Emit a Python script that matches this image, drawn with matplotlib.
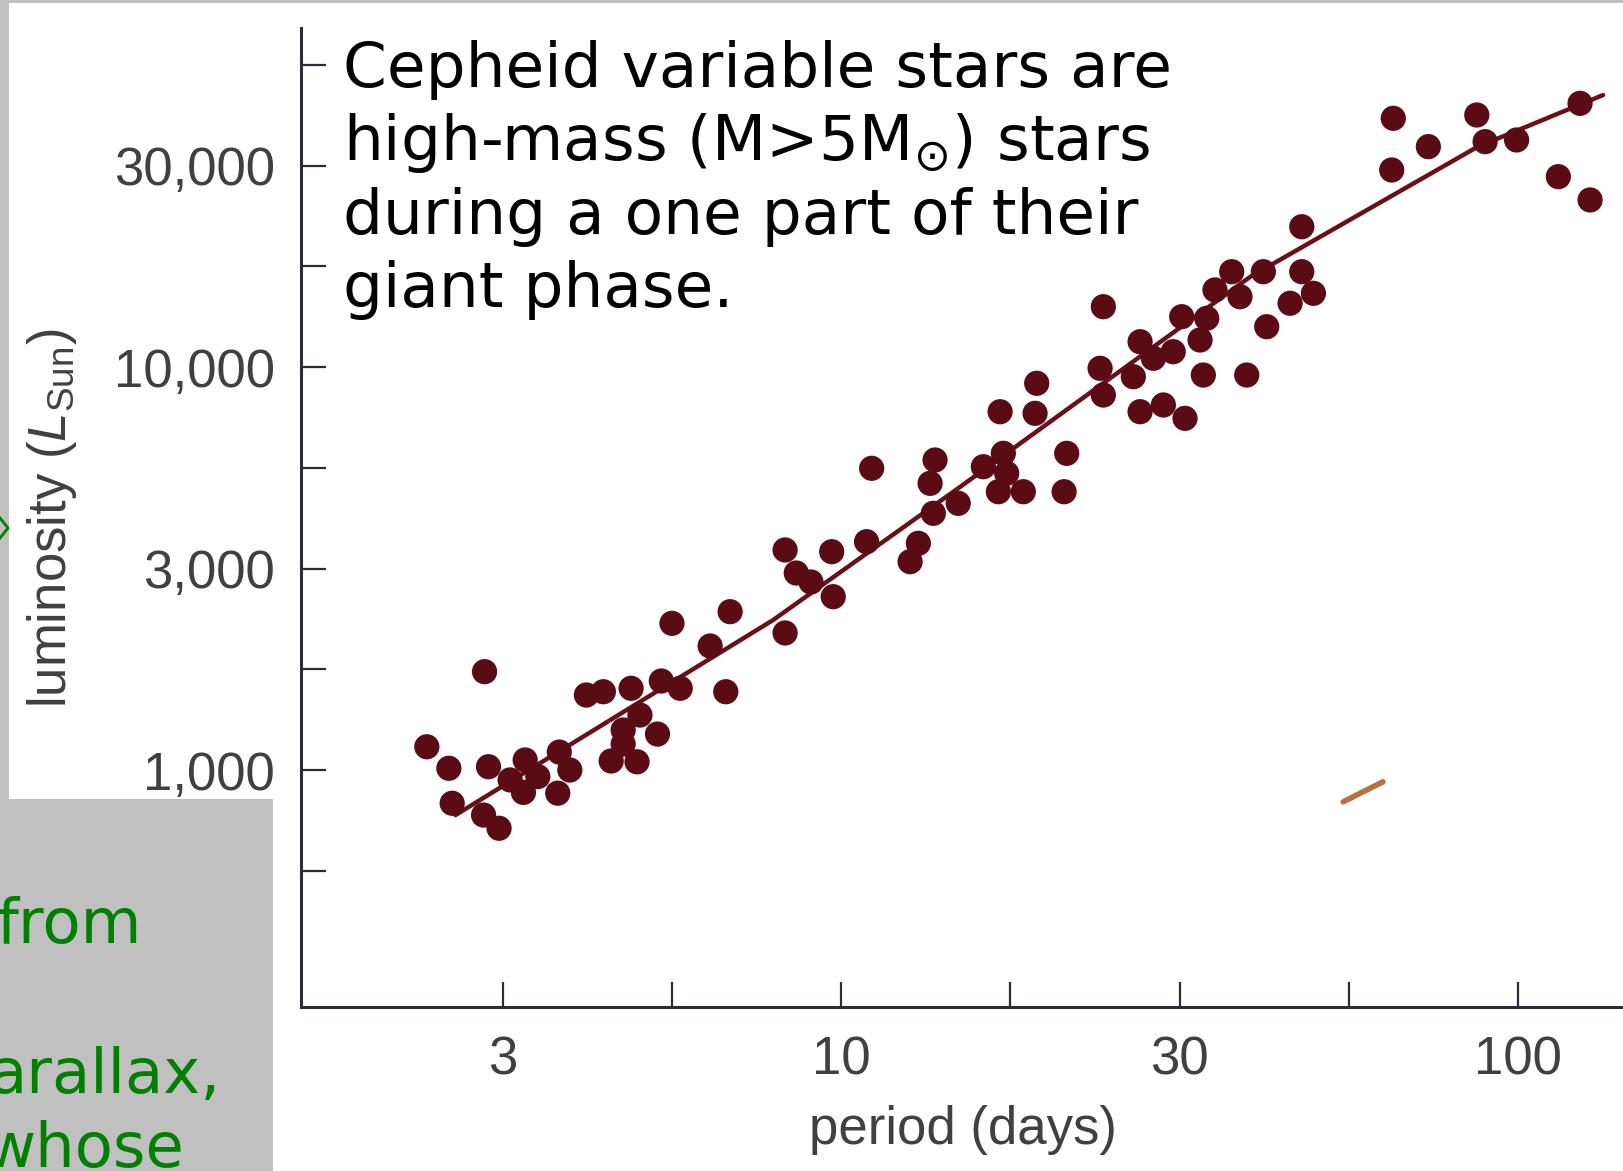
import matplotlib
matplotlib.use('Agg')
import matplotlib.pyplot as plt
from matplotlib.patches import Rectangle
from matplotlib.lines import Line2D
from matplotlib.ticker import NullLocator

# ---------------- data ----------------
period_days = [2.44, 2.63, 2.66, 2.97, 3.01, 2.96, 3.12, 3.41, 3.24, 3.39,
               3.56, 3.83, 3.97, 3.81, 4.20, 4.45, 4.89, 5.42, 5.78, 6.75,
               6.40, 8.26, 5.62, 6.85, 5.04, 4.76, 5.35, 4.57, 4.99, 4.76,
               8.26, 9.68, 10.9, 9.73, 8.58, 9.02, 11.09, 13.76, 13.53, 13.00,
               12.64, 14.89, 13.68, 16.22, 17.36, 17.56, 17.07, 18.58, 21.54, 21.35,
               17.17, 19.34, 19.45, 24.40, 24.13, 24.40, 27.02, 27.65, 28.93, 30.95,
               27.65, 29.93, 32.22, 31.86, 33.91, 34.69, 34.29, 39.75, 42.55, 35.68,
               37.77, 38.85, 42.06, 46.07, 47.94, 49.88, 47.94, 65.46, 73.76, 65.11,
               86.98, 89.48, 99.6, 123.6, 114.8, 127.9]
luminosity_lsun = [1142, 1010, 827, 1754, 1019, 773, 717, 1059, 945, 880,
                   963, 1108, 1000, 876, 1535, 1564, 1595, 1663, 1595, 1564,
                   2031, 2188, 2312, 2471, 1369, 1257, 1228, 1053, 1048, 1160,
                   3516, 3481, 3686, 2692, 3082, 2928, 5606, 5878, 5145, 3652,
                   3288, 4589, 4335, 5657, 6107, 5447, 4904, 4904, 6107, 4904,
                   7746, 7675, 9112, 14113, 9926, 8521, 9461, 11556, 10510, 10914,
                   7746, 8049, 7459, 13330, 11668, 13210, 9552, 9552, 12589, 15530,
                   17238, 14944, 17238, 14394, 17238, 15235, 22288, 41410, 35220, 30820,
                   42200, 36240, 36590, 45110, 29670, 25970]

fit_period = [2.69, 7.93, 14.98, 40.2, 87.1, 133.7]
fit_lum = [773, 2356, 5038, 16730, 35150, 47300]

artifact_period = [55.2, 63.2]
artifact_lum = [834, 935]

x_tick_values = [10 ** 0.5, 10 ** 0.75, 10, 10 ** 1.25, 10 ** 1.5, 10 ** 1.75, 100]
x_tick_labels = ['3', '', '10', '', '30', '', '100']
y_tick_values = [10 ** 2.75, 1e3, 10 ** 3.25, 10 ** 3.5, 10 ** 3.75, 1e4,
                 10 ** 4.25, 10 ** 4.5, 10 ** 4.75]
y_tick_labels = ['', '1,000', '', '3,000', '', '10,000', '', '30,000', '']

slide_lines = ['Cepheid variable stars are',
               r'high-mass (M>5M$_{\odot}$) stars',
               'during a one part of their',
               'giant phase.']
green_lines = ['from', 'arallax,', 'whose']

# ---------------- style ----------------
plt.rcParams['mathtext.fontset'] = 'custom'
plt.rcParams['mathtext.rm'] = 'Liberation Sans'
plt.rcParams['mathtext.it'] = 'Liberation Sans:italic'

W, H = 1624, 1171
GRAY = '#c0c0c0'
DOT = '#5a0b14'
AXC = '#2e2a38'
TXT = '#404040'
GREEN = '#008000'
CHART_FONT = ['Liberation Sans', 'DejaVu Sans']


def fx(x):
    return x / W


def fy(y):
    return 1 - y / H


fig = plt.figure(figsize=(W / 100, H / 100), dpi=100, facecolor=GRAY)
fig.patches.append(Rectangle((fx(9), 0), 1 - fx(9), fy(3), transform=fig.transFigure,
                             facecolor='white', edgecolor='none', zorder=-5))
fig.patches.append(Rectangle((0, 0), fx(273), fy(799), transform=fig.transFigure,
                             facecolor=GRAY, edgecolor='none', zorder=-4))

ax = fig.add_axes([fx(301.4), fy(1006.7), 1 - fx(301.4), (1006.7 - 28) / H])
ax.set_facecolor('none')
ax.set_xscale('log')
ax.set_yscale('log')
ax.set_xlim(10 ** 0.202, 10 ** 2.157)
ax.set_ylim(10 ** 2.4127, 10 ** 4.8412)

ax.plot(fit_period, fit_lum, color='#6a1019', lw=3.2, zorder=2, solid_capstyle='round')
ax.scatter(period_days, luminosity_lsun, s=330, c=DOT, edgecolors='none', zorder=3)
ax.plot(artifact_period, artifact_lum, color='#b87040', lw=4, zorder=2,
        solid_capstyle='round')

for side in ('top', 'right'):
    ax.spines[side].set_visible(False)
for side in ('left', 'bottom'):
    ax.spines[side].set_color(AXC)
    ax.spines[side].set_linewidth(2.2)

ax.set_xticks(x_tick_values)
ax.set_xticklabels(x_tick_labels)
ax.set_yticks(y_tick_values)
ax.set_yticklabels(y_tick_labels)
ax.xaxis.set_minor_locator(NullLocator())
ax.yaxis.set_minor_locator(NullLocator())
ax.tick_params(direction='in', length=18, width=1.6, color=AXC,
               labelsize=38, labelcolor=TXT)
ax.tick_params(axis='x', pad=21)
ax.tick_params(axis='y', pad=19)
for lab in ax.get_xticklabels() + ax.get_yticklabels():
    lab.set_family(CHART_FONT)

fig.text(fx(52), fy(518), r'luminosity ($L_{\mathrm{Sun}}$)', rotation=90,
         ha='center', va='center', fontsize=38, color=TXT, family=CHART_FONT)
fig.text(fx(963), fy(1144), 'period (days)', ha='center', va='baseline',
         fontsize=38, color=TXT, family=CHART_FONT)

# slide overlay text
for i, line in enumerate(slide_lines):
    fig.text(fx(343), fy(87 + 73.4 * i), line, ha='left', va='baseline',
             fontsize=45.3, color='black', family='DejaVu Sans',
             math_fontfamily='dejavusans')

green_x = [-3, -12, -16]
green_baselines = [943, 1093, 1167]
for line, xl, yb in zip(green_lines, green_x, green_baselines):
    fig.text(fx(xl), fy(yb), line, ha='left', va='baseline', fontsize=45,
             color=GREEN, family='DejaVu Sans')

# small green arrow tip at the left slide edge
fig.add_artist(Line2D([fx(0), fx(8), fx(0)], [fy(518), fy(528), fy(538)],
                      transform=fig.transFigure, color=GREEN, lw=2))

fig.savefig('out.png', dpi=100, facecolor=GRAY)
